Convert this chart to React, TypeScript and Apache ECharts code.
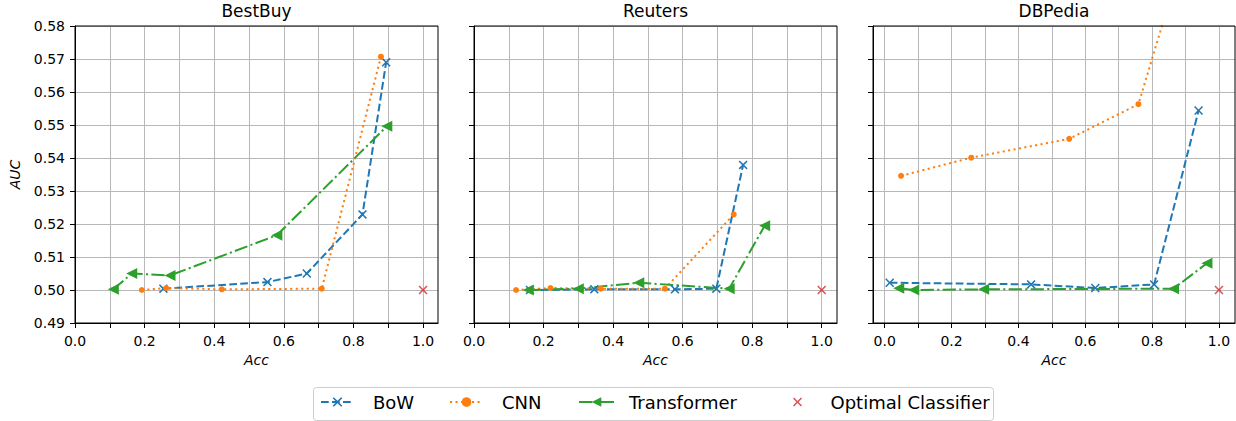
import React, { useEffect, useRef } from "react";
import * as echarts from "echarts";

// ---- data ----
const panelTitles = ["BestBuy", "Reuters", "DBPedia"];
const seriesNames = ["BoW", "CNN", "Transformer", "Optimal Classifier"];

const xGridValues = [0, 0.1, 0.2, 0.3, 0.4, 0.5, 0.6, 0.7, 0.8, 0.9, 1.0];
const xLabelValues = [0, 0.2, 0.4, 0.6, 0.8, 1.0];
const xMinByPanel = [0, 0, -0.035];
const xMaxByPanel = [1.043, 1.044, 1.048];
const yMin = 0.49;
const yMax = 0.58;
const yInterval = 0.01;

// BestBuy
const bestBuyBowAcc = [0.254, 0.553, 0.666, 0.826, 0.894];
const bestBuyBowAuc = [0.5004, 0.5024, 0.505, 0.5229, 0.569];
const bestBuyCnnAcc = [0.192, 0.262, 0.422, 0.709, 0.879];
const bestBuyCnnAuc = [0.5, 0.5006, 0.5002, 0.5004, 0.5707];
const bestBuyTrfAcc = [0.11, 0.163, 0.273, 0.58, 0.896];
const bestBuyTrfAuc = [0.5002, 0.505, 0.5044, 0.5166, 0.5496];

// Reuters
const reutersBowAcc = [0.161, 0.346, 0.578, 0.697, 0.774];
const reutersBowAuc = [0.5, 0.5002, 0.5002, 0.5004, 0.5379];
const reutersCnnAcc = [0.121, 0.22, 0.364, 0.549, 0.747];
const reutersCnnAuc = [0.5, 0.5006, 0.5004, 0.5004, 0.5229];
const reutersTrfAcc = [0.156, 0.3, 0.474, 0.734, 0.836];
const reutersTrfAuc = [0.5, 0.5004, 0.5022, 0.5004, 0.5195];

// DBPedia
const dbpediaBowAcc = [0.015, 0.438, 0.63, 0.806, 0.939];
const dbpediaBowAuc = [0.5022, 0.5017, 0.5006, 0.5017, 0.5544];
const dbpediaCnnAcc = [0.049, 0.259, 0.552, 0.759, 0.88];
const dbpediaCnnAuc = [0.5346, 0.5401, 0.5458, 0.5563, 0.597];
const dbpediaTrfAcc = [0.042, 0.087, 0.296, 0.864, 0.964];
const dbpediaTrfAuc = [0.5005, 0.5, 0.5002, 0.5004, 0.5081];

// Optimal classifier
const optimalAcc = [1.0];
const optimalAuc = [0.5];

const panels = [
  {
    bow: [bestBuyBowAcc, bestBuyBowAuc],
    cnn: [bestBuyCnnAcc, bestBuyCnnAuc],
    trf: [bestBuyTrfAcc, bestBuyTrfAuc],
  },
  {
    bow: [reutersBowAcc, reutersBowAuc],
    cnn: [reutersCnnAcc, reutersCnnAuc],
    trf: [reutersTrfAcc, reutersTrfAuc],
  },
  {
    bow: [dbpediaBowAcc, dbpediaBowAuc],
    cnn: [dbpediaCnnAcc, dbpediaCnnAuc],
    trf: [dbpediaTrfAcc, dbpediaTrfAuc],
  },
];

const zip = (xs: number[], ys: number[]) => xs.map((x, i) => [x, ys[i]]);

// ---- styles ----
const FONT = "DejaVu Sans";
const BLUE = "#1f77b4";
const ORANGE = "#ff7f0e";
const GREEN = "#2ca02c";
const RED = "#d62728";
const GRIDC = "#b8b8b8";
const XSYM =
  "path://M0,1.2L1.2,0L5,3.8L8.8,0L10,1.2L6.2,5L10,8.8L8.8,10L5,6.2L1.2,10L0,8.8L3.8,5Z";

const gridRects = [
  { left: 75, width: 363 },
  { left: 474, width: 363 },
  { left: 873, width: 362 },
];
const GRID_TOP = 26;
const GRID_H = 297;

export default function App() {
  const ref = useRef<HTMLDivElement>(null);
  useEffect(() => {
    if (!ref.current) return;
    const chart = echarts.init(ref.current, undefined, { renderer: "svg" });

    const grid = gridRects.map((g) => ({
      left: g.left,
      top: GRID_TOP,
      width: g.width,
      height: GRID_H,
      show: true,
      borderColor: "#000",
      borderWidth: 1,
      backgroundColor: "transparent",
      z: 5,
    }));

    const xAxis = gridRects.map((_, i) => ({
      type: "value",
      gridIndex: i,
      min: xMinByPanel[i],
      max: xMaxByPanel[i],
      name: "Acc",
      nameLocation: "middle",
      nameGap: 30,
      nameTextStyle: { fontFamily: FONT, fontSize: 14, fontStyle: "italic", color: "#000" },
      axisLine: { show: true, onZero: false, lineStyle: { color: "#000", width: 1 } },
      axisTick: { show: true, length: 5, lineStyle: { color: "#000" }, customValues: xGridValues },
      axisLabel: {
        show: true,
        margin: 11,
        fontFamily: FONT,
        fontSize: 14,
        color: "#000",
        customValues: xLabelValues,
        formatter: (v: number) => v.toFixed(1),
      },
      splitLine: { show: true, lineStyle: { color: GRIDC, width: 1 } },
    }));

    const yAxis = gridRects.map((_, i) => ({
      type: "value",
      gridIndex: i,
      min: yMin,
      max: yMax,
      interval: yInterval,
      name: i === 0 ? "AUC" : "",
      nameLocation: "middle",
      nameGap: 53,
      nameTextStyle: { fontFamily: FONT, fontSize: 14, fontStyle: "italic", color: "#000" },
      axisLine: { show: true, onZero: false, lineStyle: { color: "#000", width: 1 } },
      axisTick: { show: true, length: 5, lineStyle: { color: "#000" } },
      axisLabel: {
        show: i === 0,
        margin: 10,
        fontFamily: FONT,
        fontSize: 14,
        color: "#000",
        showMinLabel: true,
        showMaxLabel: true,
        formatter: (v: number) => v.toFixed(2),
      },
      splitLine: { show: true, lineStyle: { color: GRIDC, width: 1 } },
    }));

    const series: any[] = [];
    panels.forEach((p, i) => {
      series.push({
        name: "BoW",
        type: "line",
        xAxisIndex: i,
        yAxisIndex: i,
        data: zip(p.bow[0], p.bow[1]),
        symbol: XSYM,
        symbolSize: 9,
        showAllSymbol: true,
        itemStyle: { color: BLUE },
        lineStyle: { color: BLUE, width: 2, type: [7.7, 3.3] },
        z: 3,
      });
      series.push({
        name: "CNN",
        type: "line",
        xAxisIndex: i,
        yAxisIndex: i,
        data: zip(p.cnn[0], p.cnn[1]),
        symbol: "circle",
        symbolSize: 6,
        showAllSymbol: true,
        itemStyle: { color: ORANGE },
        lineStyle: { color: ORANGE, width: 2, type: [2.1, 3.4] },
        z: 3,
      });
      series.push({
        name: "Transformer",
        type: "line",
        xAxisIndex: i,
        yAxisIndex: i,
        data: zip(p.trf[0], p.trf[1]),
        symbol: "triangle",
        symbolRotate: 90,
        symbolSize: 11,
        showAllSymbol: true,
        itemStyle: { color: GREEN },
        lineStyle: { color: GREEN, width: 2, type: [13.3, 3.3, 2.1, 3.3] },
        z: 3,
      });
      series.push({
        name: "Optimal Classifier",
        type: "scatter",
        xAxisIndex: i,
        yAxisIndex: i,
        data: zip(optimalAcc, optimalAuc),
        symbol: XSYM,
        symbolSize: 9,
        itemStyle: { color: RED },
        z: 3,
      });
    });

    const title = panelTitles.map((t, i) => ({
      text: t,
      left: gridRects[i].left + gridRects[i].width / 2,
      top: 2,
      textAlign: "center",
      padding: 0,
      textStyle: { fontFamily: FONT, fontSize: 17, fontWeight: "normal", color: "#000" },
    }));

    const legendPos = [
      { left: 320, w: 33, pad: 14 },
      { left: 449, w: 33, pad: 14 },
      { left: 578, w: 35, pad: 10 },
      { left: 793, w: 30, pad: 13 },
    ];
    const legend = seriesNames.map((n, i) => ({
      data: [n],
      left: legendPos[i].left,
      top: 393,
      padding: 0,
      itemWidth: legendPos[i].w,
      itemHeight: i === 3 ? 9 : 12,
      selectedMode: false,
      z: 10,
      textStyle: {
        fontFamily: FONT,
        fontSize: 18,
        color: "#000",
        padding: [0, 0, 0, legendPos[i].pad],
      },
    }));

    chart.setOption({
      animation: false,
      backgroundColor: "#fff",
      title,
      grid,
      xAxis,
      yAxis,
      series,
      legend,
      graphic: [
        {
          type: "rect",
          left: 313,
          top: 387,
          z: 0,
          silent: true,
          shape: { width: 680, height: 33, r: 3 },
          style: { fill: "#fff", stroke: "#cccccc", lineWidth: 1 },
        },
      ],
    });
    return () => chart.dispose();
  }, []);
  return (
    <div
      ref={ref}
      style={{ position: "absolute", left: 0, top: 0, width: 1236, height: 421 }}
    />
  );
}
